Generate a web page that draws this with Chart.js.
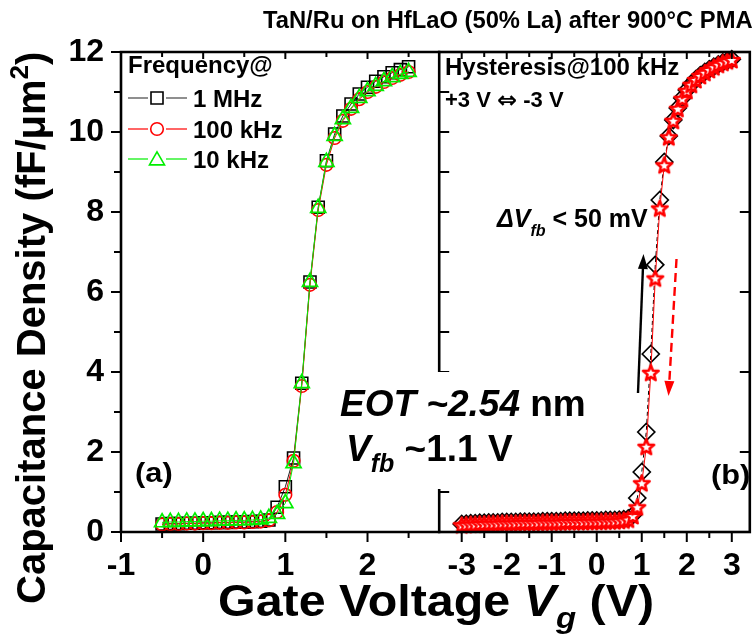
<!DOCTYPE html>
<html>
<head>
<meta charset="utf-8">
<script src="https://cdn.jsdelivr.net/npm/chart.js@4.4.1/dist/chart.umd.min.js"></script>
<style>
  html, body { margin: 0; padding: 0; background: #fff; overflow: hidden; }
  #wrap { position: relative; width: 756px; height: 641px; overflow: hidden; }
  #cb { position: absolute; left: 429px; top: 0; }
  #ca { position: absolute; left: 0; top: 0; }
</style>
</head>
<body>
<div id="wrap">
  <canvas id="cb" width="331" height="641"></canvas>
  <canvas id="ca" width="756" height="641"></canvas>
</div>
<script>
// ---- panel (a): frequency dependence ----
const xA = [-0.5, -0.4, -0.3, -0.2, -0.1, 0, 0.1, 0.2, 0.3, 0.4, 0.5, 0.6, 0.7, 0.8,
  0.9, 1.0, 1.1, 1.2, 1.3, 1.4, 1.5, 1.6, 1.7, 1.8, 1.9, 2.0, 2.1, 2.2, 2.3, 2.4, 2.5];
const c1MHz = [0.20, 0.21, 0.21, 0.22, 0.22, 0.23, 0.23, 0.24, 0.24, 0.25, 0.25, 0.26, 0.27, 0.30,
  0.62, 1.13, 1.85, 3.72, 6.25, 8.12, 9.28, 9.95, 10.40, 10.70, 10.95, 11.12, 11.27, 11.38, 11.48, 11.56, 11.63];
const c100kHz = [0.19, 0.20, 0.20, 0.21, 0.21, 0.22, 0.22, 0.23, 0.23, 0.24, 0.24, 0.25, 0.26, 0.29,
  0.50, 0.93, 1.78, 3.65, 6.18, 8.05, 9.18, 9.85, 10.28, 10.58, 10.82, 11.00, 11.13, 11.25, 11.35, 11.43, 11.50];
const c10kHz = [0.24, 0.25, 0.25, 0.26, 0.26, 0.27, 0.27, 0.28, 0.28, 0.29, 0.29, 0.30, 0.31, 0.35,
  0.45, 0.72, 1.72, 3.72, 6.25, 8.10, 9.25, 9.90, 10.32, 10.60, 10.85, 11.02, 11.15, 11.27, 11.37, 11.45, 11.50];

// ---- panel (b): hysteresis at 100 kHz ----
const xB = [-3.0, -2.9, -2.8, -2.7, -2.6, -2.5, -2.4, -2.3, -2.2, -2.1, -2.0,
  -1.9, -1.8, -1.7, -1.6, -1.5, -1.4, -1.3, -1.2, -1.1, -1.0,
  -0.9, -0.8, -0.7, -0.6, -0.5, -0.4, -0.3, -0.2, -0.1, 0,
  0.1, 0.2, 0.3, 0.4, 0.5, 0.6, 0.7, 0.8,
  0.9, 1.0, 1.1, 1.2, 1.3, 1.4, 1.5, 1.6, 1.7, 1.8, 1.9, 2.0,
  2.1, 2.2, 2.3, 2.4, 2.5, 2.6, 2.7, 2.8, 2.9, 3.0];
const sweepUp = [0.20, 0.21, 0.22, 0.22, 0.23, 0.23, 0.24, 0.24, 0.24, 0.25, 0.25,
  0.25, 0.25, 0.26, 0.26, 0.26, 0.26, 0.26, 0.27, 0.27, 0.27,
  0.27, 0.27, 0.28, 0.28, 0.28, 0.28, 0.28, 0.29, 0.29, 0.29,
  0.29, 0.30, 0.30, 0.30, 0.31, 0.32, 0.34, 0.42,
  0.85, 1.50, 2.50, 4.45, 6.68, 8.30, 9.25, 9.90, 10.30, 10.60, 10.85, 11.05,
  11.20, 11.32, 11.42, 11.50, 11.57, 11.63, 11.69, 11.74, 11.78, 11.82];
const sweepDown = [0.17, 0.18, 0.19, 0.19, 0.20, 0.20, 0.21, 0.21, 0.21, 0.22, 0.22,
  0.22, 0.22, 0.23, 0.23, 0.23, 0.23, 0.23, 0.24, 0.24, 0.24,
  0.24, 0.24, 0.25, 0.25, 0.25, 0.25, 0.25, 0.26, 0.26, 0.26,
  0.26, 0.27, 0.27, 0.27, 0.28, 0.29, 0.31, 0.40,
  0.62, 1.22, 2.13, 3.98, 6.34, 8.09, 9.17, 9.87, 10.28, 10.58, 10.83, 11.03,
  11.18, 11.30, 11.40, 11.48, 11.55, 11.62, 11.68, 11.73, 11.77, 11.80];

// ticks
const yTicks = [0, 2, 4, 6, 8, 10, 12];
const yMinor = [1, 3, 5, 7, 9, 11];
const xTicksA = [-1, 0, 1, 2];
const xMinorA = [-0.5, 0.5, 1.5, 2.5];
const xTicksB = [-3, -2, -1, 0, 1, 2, 3];
const xMinorB = [-2.5, -1.5, -0.5, 0.5, 1.5, 2.5];

const FAM = 'Arial, "Liberation Sans", sans-serif';
const B = (s) => 'bold ' + s + 'px ' + FAM;
const BI = (s) => 'italic bold ' + s + 'px ' + FAM;

function pts(xs, ys) { return xs.map((x, i) => ({ x: x, y: ys[i] })); }

function makeStar() {
  const c = document.createElement('canvas');
  c.width = 22; c.height = 22;
  const g = c.getContext('2d');
  g.beginPath();
  for (let i = 0; i < 10; i++) {
    const r = i % 2 ? 3.5 : 8.2;
    const a = -Math.PI / 2 + i * Math.PI / 5;
    const px = 11 + r * Math.cos(a), py = 11.6 + r * Math.sin(a);
    if (i) g.lineTo(px, py); else g.moveTo(px, py);
  }
  g.closePath();
  g.fillStyle = '#fff';
  g.fill();
  g.lineJoin = 'round';
  g.lineWidth = 2.6;
  g.strokeStyle = '#ff0000';
  g.stroke();
  return c;
}

// draw a row of text pieces, optional horizontal stretch
function runs(ctx, x, y, parts, sx, rot) {
  ctx.save();
  ctx.translate(x, y);
  if (rot) ctx.rotate(rot);
  ctx.scale(sx || 1, 1);
  ctx.fillStyle = '#000';
  ctx.textBaseline = 'alphabetic';
  ctx.textAlign = 'left';
  let cx = 0;
  for (const p of parts) {
    ctx.font = p.f;
    ctx.fillText(p.t, cx, p.dy || 0);
    cx += ctx.measureText(p.t).width;
  }
  ctx.restore();
}

function line(ctx, x1, y1, x2, y2) {
  ctx.beginPath(); ctx.moveTo(x1, y1); ctx.lineTo(x2, y2); ctx.stroke();
}

function arrow(ctx, x1, y1, x2, y2, color, dash) {
  const ang = Math.atan2(y2 - y1, x2 - x1);
  const hl = 15, hw = 5;
  const bx = x2 - hl * Math.cos(ang), by = y2 - hl * Math.sin(ang);
  ctx.save();
  ctx.strokeStyle = color; ctx.fillStyle = color; ctx.lineWidth = 2.4;
  if (dash) ctx.setLineDash(dash);
  line(ctx, x1, y1, bx, by);
  ctx.setLineDash([]);
  ctx.beginPath();
  ctx.moveTo(x2, y2);
  ctx.lineTo(bx + hw * Math.sin(ang), by - hw * Math.cos(ang));
  ctx.lineTo(bx - hw * Math.sin(ang), by + hw * Math.cos(ang));
  ctx.closePath();
  ctx.fill();
  ctx.restore();
}

function legendMarker(ctx, kind, x, y, color) {
  ctx.save();
  ctx.strokeStyle = color; ctx.lineWidth = 1.6;
  ctx.beginPath();
  if (kind === 'rect') ctx.rect(x - 6, y - 6, 12, 12);
  else if (kind === 'circle') ctx.arc(x, y, 6.3, 0, Math.PI * 2);
  else {
    const r = 8.7;
    ctx.moveTo(x, y - r);
    ctx.lineTo(x + r * Math.sin(2 * Math.PI / 3), y - r * Math.cos(2 * Math.PI / 3));
    ctx.lineTo(x + r * Math.sin(4 * Math.PI / 3), y - r * Math.cos(4 * Math.PI / 3));
    ctx.closePath();
  }
  ctx.stroke();
  ctx.restore();
}

const tickFont = { family: FAM, size: 32, weight: 'bold' };

// frame, ticks and all annotations of the left chart (it sits on top)
const frameA = {
  id: 'frameA',
  afterDraw(chart) {
    const ctx = chart.ctx, a = chart.chartArea, xs = chart.scales.x, ys = chart.scales.y;
    ctx.save();
    ctx.strokeStyle = '#000';
    ctx.lineCap = 'square';
    ctx.lineWidth = 2;
    xTicksA.forEach(v => { const p = xs.getPixelForValue(v); line(ctx, p, a.bottom, p, a.bottom + 9); line(ctx, p, a.top, p, a.top + 6); });
    xMinorA.forEach(v => { const p = xs.getPixelForValue(v); line(ctx, p, a.bottom, p, a.bottom + 5); line(ctx, p, a.top, p, a.top + 4); });
    yTicks.forEach(v => { const p = ys.getPixelForValue(v); line(ctx, a.left - 9, p, a.left, p); });
    yMinor.forEach(v => { const p = ys.getPixelForValue(v); line(ctx, a.left - 6, p, a.left, p); });
    ctx.lineWidth = 2.6;
    ctx.beginPath();
    ctx.moveTo(a.right, a.top); ctx.lineTo(a.left, a.top); ctx.lineTo(a.left, a.bottom); ctx.lineTo(a.right, a.bottom);
    ctx.stroke();
    ctx.restore();

    // title
    runs(ctx, 263, 28, [{ t: 'TaN/Ru on HfLaO (50% La) after 900\u00B0C PMA', f: B(24) }], 0.99);

    // legend (a)
    runs(ctx, 128, 73, [{ t: 'Frequency@', f: B(24) }]);
    const rows = [
      { y: 98, c: '#000', lc: '#444', k: 'rect', t: '1 MHz' },
      { y: 129, c: '#ff0000', lc: '#ff0000', k: 'circle', t: '100 kHz' },
      { y: 159, c: '#00ee00', lc: '#00ee00', k: 'tri', t: '10 kHz' }
    ];
    rows.forEach(r => {
      ctx.save(); ctx.strokeStyle = r.lc; ctx.lineWidth = 1.2;
      line(ctx, 128, r.y, 148, r.y); line(ctx, 166, r.y, 187, r.y);
      ctx.restore();
      legendMarker(ctx, r.k, 157, r.y + (r.k === 'tri' ? 1.5 : 0), r.c);
      runs(ctx, 193, r.y + 9, [{ t: r.t, f: B(24) }]);
    });

    // panel (b) texts
    runs(ctx, 445, 75, [{ t: 'Hysteresis@100 kHz', f: B(24) }]);
    runs(ctx, 445, 107, [
      { t: '+3 V ', f: B(22) },
      { t: '\u21D4', f: 'bold 24px "DejaVu Sans", sans-serif', dy: 1 },
      { t: ' -3 V', f: B(22) }
    ]);
    runs(ctx, 497, 227, [
      { t: '\u0394V', f: BI(25) },
      { t: 'fb', f: BI(16), dy: 9 },
      { t: ' < 50 mV', f: B(25) }
    ]);

    // arrows
    arrow(ctx, 638, 393, 643.5, 254, '#000', null);
    arrow(ctx, 676.5, 259, 668.5, 396, '#ff0000', [9, 5]);

    // EOT / Vfb box
    ctx.save(); ctx.fillStyle = '#fff'; ctx.fillRect(333, 372, 266, 117); ctx.restore();
    runs(ctx, 340, 416, [{ t: 'EOT ~2.54', f: BI(37) }, { t: ' nm', f: B(37) }]);
    runs(ctx, 346, 461, [
      { t: 'V', f: BI(37) },
      { t: 'fb', f: BI(25), dy: 11 },
      { t: ' ~1.1 V', f: B(37) }
    ]);

    // panel labels
    runs(ctx, 135, 482, [{ t: '(a)', f: B(28) }], 1.1);
    runs(ctx, 711, 484, [{ t: '(b)', f: B(28) }], 1.1);

    // axis titles
    runs(ctx, 218, 616, [
      { t: 'Gate Voltage ', f: B(44) },
      { t: 'V', f: BI(44) },
      { t: 'g', f: BI(30), dy: 12 },
      { t: ' (V)', f: B(44) }
    ], 1.1);
    runs(ctx, 45, 604, [
      { t: 'Capacitance Density (fF/\u03BCm', f: B(40) },
      { t: '2', f: B(26), dy: -17 },
      { t: ')', f: B(40) }
    ], 1.0, -Math.PI / 2);
  }
};

const frameB = {
  id: 'frameB',
  afterDraw(chart) {
    const ctx = chart.ctx, a = chart.chartArea, xs = chart.scales.x, ys = chart.scales.y;
    ctx.save();
    ctx.strokeStyle = '#000';
    ctx.lineCap = 'square';
    ctx.lineWidth = 2;
    xTicksB.forEach(v => { const p = xs.getPixelForValue(v); line(ctx, p, a.bottom, p, a.bottom + 9); line(ctx, p, a.top, p, a.top + 6); });
    xMinorB.forEach(v => { const p = xs.getPixelForValue(v); line(ctx, p, a.bottom, p, a.bottom + 5); line(ctx, p, a.top, p, a.top + 4); });
    yTicks.concat(yMinor).forEach(v => { const p = ys.getPixelForValue(v); line(ctx, a.left, p, a.left + 9, p); });
    yTicks.forEach(v => { const p = ys.getPixelForValue(v); line(ctx, a.right - 9, p, a.right, p); });
    ctx.lineWidth = 2.6;
    ctx.strokeRect(a.left, a.top, a.right - a.left, a.bottom - a.top);
    ctx.restore();
  }
};

function baseScales(xmin, xmax, xt, yw, showY) {
  return {
    x: {
      type: 'linear', min: xmin, max: xmax,
      grid: { display: false }, border: { display: false },
      afterFit(s) { s.height = 109; },
      afterBuildTicks(s) { s.ticks = xt.map(v => ({ value: v })); },
      ticks: { font: tickFont, color: '#000', padding: 7, maxRotation: 0, autoSkip: false }
    },
    y: {
      min: 0, max: 12,
      grid: { display: false }, border: { display: false },
      afterFit(s) { s.width = yw; },
      afterBuildTicks(s) { s.ticks = yTicks.map(v => ({ value: v })); },
      ticks: { display: showY, font: tickFont, color: '#000', padding: 9, autoSkip: false }
    }
  };
}

// right panel (underneath)
new Chart(document.getElementById('cb'), {
  type: 'line',
  data: {
    datasets: [
      { label: '+3 V to -3 V', data: pts(xB, sweepDown), borderColor: '#ff0000', borderWidth: 1,
        pointStyle: makeStar(), pointRadius: 8, order: 1, clip: false },
      { label: '-3 V to +3 V', data: pts(xB, sweepUp), borderColor: '#000', borderWidth: 1, borderDash: [4, 3],
        pointStyle: 'rectRot', pointRadius: 8.5, pointBorderColor: '#000', pointBorderWidth: 1.7,
        pointBackgroundColor: 'rgba(0,0,0,0)', order: 2, clip: false }
    ]
  },
  options: {
    responsive: false, animation: false,
    layout: { padding: { top: 52, left: 10, right: 0, bottom: 0 } },
    plugins: { legend: { display: false }, tooltip: { enabled: false } },
    scales: baseScales(-3.5, 3.4, xTicksB, 0, false)
  },
  plugins: [frameB]
});

// left panel (on top, carries all titles and notes)
new Chart(document.getElementById('ca'), {
  type: 'line',
  data: {
    datasets: [
      { label: '1 MHz', data: pts(xA, c1MHz), borderColor: '#222', borderWidth: 1,
        pointStyle: 'rect', pointRadius: 8.5, pointBorderColor: '#000', pointBorderWidth: 1.6,
        pointBackgroundColor: 'rgba(0,0,0,0)', order: 3, clip: false },
      { label: '100 kHz', data: pts(xA, c100kHz), borderColor: '#ff0000', borderWidth: 1,
        pointStyle: 'circle', pointRadius: 6.3, pointBorderColor: '#ff0000', pointBorderWidth: 1.6,
        pointBackgroundColor: 'rgba(0,0,0,0)', order: 2, clip: false },
      { label: '10 kHz', data: pts(xA, c10kHz), borderColor: '#00ee00', borderWidth: 1,
        pointStyle: 'triangle', pointRadius: 8.7, pointBorderColor: '#00ee00', pointBorderWidth: 1.7,
        pointBackgroundColor: 'rgba(0,0,0,0)', order: 1, clip: false }
    ]
  },
  options: {
    responsive: false, animation: false,
    layout: { padding: { top: 52, left: 0, right: 317, bottom: 0 } },
    plugins: { legend: { display: false }, tooltip: { enabled: false } },
    scales: baseScales(-1, 2.87, xTicksA, 121, true)
  },
  plugins: [frameA]
});
</script>
</body>
</html>
